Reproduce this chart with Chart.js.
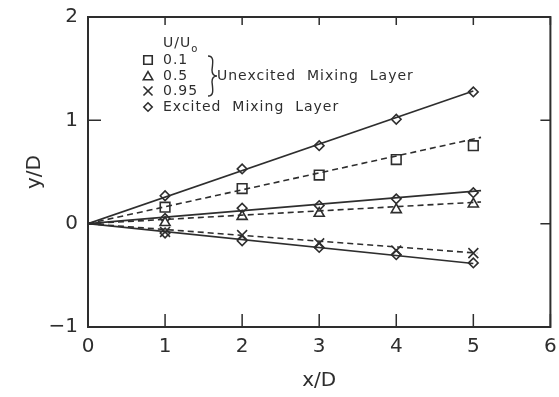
<!DOCTYPE html>
<html>
<head>
<meta charset="utf-8">
<script src="https://cdn.jsdelivr.net/npm/chart.js@4.4.0/dist/chart.umd.min.js"></script>
<style>
  html, body { margin: 0; padding: 0; background: #fff; }
  #wrap { width: 559px; height: 397px; position: relative; }
</style>
</head>
<body>
<div id="wrap"><canvas id="chart" width="559" height="397"></canvas></div>
<script>
// x/D stations where data were taken
var xStations = [1, 2, 3, 4, 5];

// excited mixing layer (diamonds), three speed ratios
var excited01 = [0.27, 0.53, 0.755, 1.01, 1.275];
var excited05 = [0.05, 0.15, 0.175, 0.24, 0.30];
var excited095 = [-0.09, -0.165, -0.23, -0.30, -0.38];

// unexcited mixing layer
var unexcited01 = [0.16, 0.34, 0.47, 0.62, 0.755];
var unexcited05 = [0.01, 0.07, 0.10, 0.135, 0.19];
var unexcited095 = [-0.08, -0.11, -0.19, -0.26, -0.285];

// straight fit lines from the origin: end x and end y
var fitNames = ['excited01', 'excited05', 'excited095', 'unexcited01', 'unexcited05', 'unexcited095'];
var fitEndX = [5, 5.1, 5, 5.1, 5.1, 5.05];
var fitEndY = [1.285, 0.32, -0.385, 0.835, 0.21, -0.285];

var xTicks = [0, 1, 2, 3, 4, 5, 6];
var yTicks = [-1, 0, 1, 2];

var ink = '#2e2e2e';
var fontFamily = '"DejaVu Sans", sans-serif';

function toPoints(xs, ys) {
    return xs.map(function (x, i) { return { x: x, y: ys[i] }; });
}

function fitDataset(i) {
    return {
        label: 'fit ' + fitNames[i],
        data: [{ x: 0, y: 0 }, { x: fitEndX[i], y: fitEndY[i] }],
        showLine: true,
        borderColor: ink,
        borderWidth: 1.6,
        borderDash: fitNames[i].indexOf('unexcited') === 0 ? [6, 4] : [],
        pointRadius: 0,
        fill: false
    };
}

function markerDataset(label, values, style, radius) {
    return {
        label: label,
        data: toPoints(xStations, values),
        showLine: false,
        pointStyle: style,
        pointRadius: radius,
        pointBorderWidth: 1.6,
        pointBorderColor: ink,
        pointBackgroundColor: '#fff'
    };
}

var datasets = [];
for (var i = 0; i < fitNames.length; i++) {
    datasets.push(fitDataset(i));
}
datasets.push(markerDataset('U/Uo 0.1', unexcited01, 'rect', 6.8));
datasets.push(markerDataset('U/Uo 0.5', unexcited05, 'triangle', 5.8));
datasets.push(markerDataset('U/Uo 0.95', unexcited095, 'crossRot', 7));
datasets.push(markerDataset('Excited 0.1', excited01, 'rectRot', 4.8));
datasets.push(markerDataset('Excited 0.5', excited05, 'rectRot', 4.8));
datasets.push(markerDataset('Excited 0.95', excited095, 'rectRot', 4.8));

// frame and inward tick marks
var framePlugin = {
    id: 'frame',
    afterDraw: function (chart) {
        var ctx = chart.ctx;
        var a = chart.chartArea;
        var xs = chart.scales.x;
        var ys = chart.scales.y;
        ctx.save();
        ctx.strokeStyle = ink;
        ctx.lineWidth = 2;
        ctx.strokeRect(a.left, a.top, a.right - a.left, a.bottom - a.top);
        ctx.lineWidth = 1.5;
        ctx.beginPath();
        xTicks.forEach(function (v) {
            var px = xs.getPixelForValue(v);
            ctx.moveTo(px, a.bottom);
            ctx.lineTo(px, a.bottom - 13);
            ctx.moveTo(px, a.top);
            ctx.lineTo(px, a.top + 8);
        });
        yTicks.forEach(function (v) {
            var py = ys.getPixelForValue(v);
            ctx.moveTo(a.left, py);
            ctx.lineTo(a.left + 13, py);
            ctx.moveTo(a.right, py);
            ctx.lineTo(a.right - 10, py);
        });
        ctx.stroke();
        ctx.restore();
    }
};

// legend block in the upper left corner
var legendPlugin = {
    id: 'paperLegend',
    afterDraw: function (chart) {
        var ctx = chart.ctx;
        var mx = 148, tx = 163;
        var rows = [60, 76, 91, 107];
        ctx.save();
        ctx.fillStyle = ink;
        ctx.strokeStyle = ink;
        ctx.textBaseline = 'middle';
        ctx.letterSpacing = '1px';
        ctx.font = '14px ' + fontFamily;
        ctx.fillText('U/U', tx, 43);
        var w = ctx.measureText('U/U').width;
        ctx.font = '10px ' + fontFamily;
        ctx.fillText('o', tx + w, 49);
        ctx.font = '14px ' + fontFamily;
        ctx.fillText('0.1', tx, rows[0]);
        ctx.fillText('0.5', tx, rows[1]);
        ctx.fillText('0.95', tx, rows[2]);
        ctx.fillText('Excited  Mixing  Layer', tx, rows[3]);
        ctx.fillText('Unexcited  Mixing  Layer', 217, rows[1]);

        ctx.lineWidth = 1.6;
        ctx.fillStyle = '#fff';
        Chart.helpers.drawPoint(ctx, { pointStyle: 'rect', radius: 6, borderWidth: 1.6 }, mx, rows[0]);
        Chart.helpers.drawPoint(ctx, { pointStyle: 'triangle', radius: 5.4, borderWidth: 1.6 }, mx, rows[1] + 1);
        Chart.helpers.drawPoint(ctx, { pointStyle: 'crossRot', radius: 6.4, borderWidth: 1.6 }, mx, rows[2]);
        Chart.helpers.drawPoint(ctx, { pointStyle: 'rectRot', radius: 4.2, borderWidth: 1.6 }, mx, rows[3]);

        // curly brace
        var bx = 208, top = 56, mid = 76, bot = 96;
        ctx.lineWidth = 1.4;
        ctx.beginPath();
        ctx.moveTo(bx, top);
        ctx.bezierCurveTo(bx + 6, top, bx + 5, top + 6, bx + 4, mid - 6);
        ctx.bezierCurveTo(bx + 4, mid - 2, bx + 6, mid, bx + 9, mid);
        ctx.moveTo(bx, bot);
        ctx.bezierCurveTo(bx + 6, bot, bx + 5, bot - 6, bx + 4, mid + 6);
        ctx.bezierCurveTo(bx + 4, mid + 2, bx + 6, mid, bx + 9, mid);
        ctx.stroke();
        ctx.restore();
    }
};

new Chart(document.getElementById('chart'), {
    type: 'scatter',
    data: { datasets: datasets },
    options: {
        responsive: false,
        animation: false,
        layout: { padding: { top: 17, right: 8, left: 0, bottom: 0 } },
        plugins: {
            legend: { display: false },
            tooltip: { enabled: false }
        },
        scales: {
            x: {
                type: 'linear',
                min: 0,
                max: 6,
                afterFit: function (scale) {
                    scale.height = 70;
                    scale.paddingLeft = 0;
                    scale.paddingRight = 0;
                },
                afterBuildTicks: function (scale) {
                    scale.ticks = xTicks.map(function (v) { return { value: v }; });
                },
                grid: { display: false, drawTicks: false },
                border: { display: false },
                ticks: {
                    color: ink,
                    padding: 8,
                    font: { family: fontFamily, size: 20 }
                },
                title: {
                    display: true,
                    text: 'x/D',
                    color: ink,
                    font: { family: fontFamily, size: 20 },
                    padding: { top: 0, bottom: 4 }
                }
            },
            y: {
                type: 'linear',
                min: -1,
                max: 2,
                afterFit: function (scale) {
                    scale.width = 88;
                    scale.paddingTop = 0;
                    scale.paddingBottom = 0;
                },
                afterBuildTicks: function (scale) {
                    scale.ticks = yTicks.map(function (v) { return { value: v }; });
                },
                grid: { display: false, drawTicks: false },
                border: { display: false },
                ticks: {
                    color: ink,
                    padding: 10,
                    font: { family: fontFamily, size: 20 },
                    callback: function (v) { return String(v).replace('-', '\u2212'); }
                },
                title: {
                    display: true,
                    text: 'y/D',
                    color: ink,
                    font: { family: fontFamily, size: 20 },
                    padding: { top: 23, bottom: 0 }
                }
            }
        }
    },
    plugins: [framePlugin, legendPlugin]
});
</script>
</body>
</html>
